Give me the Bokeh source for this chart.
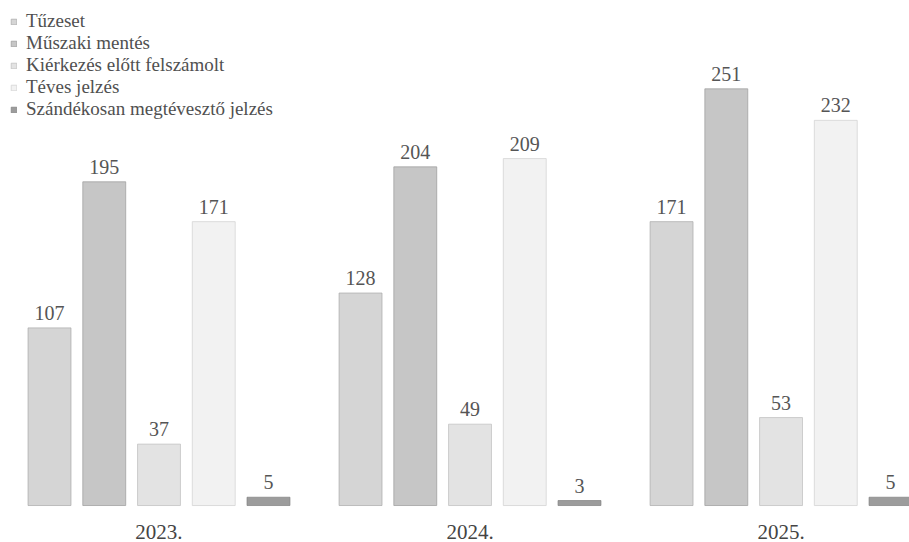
from bokeh.plotting import figure
from bokeh.models import FixedTicker, Range1d, Legend, LegendItem, ColumnDataSource
from bokeh.core.properties import value
from bokeh.embed import file_html
from bokeh.resources import INLINE

years = ["2023.", "2024.", "2025."]
series = ["Tűzeset", "Műszaki mentés", "Kiérkezés előtt felszámolt",
          "Téves jelzés", "Szándékosan megtévesztő jelzés"]
tuzeset = [107, 128, 171]
muszaki = [195, 204, 251]
kierkezes = [37, 49, 53]
teves = [171, 209, 232]
szandekos = [5, 3, 5]
values_by_series = [tuzeset, muszaki, kierkezes, teves, szandekos]

fills = ["#d5d5d5", "#c6c6c6", "#e3e3e3", "#f2f2f2", "#9c9c9c"]
edges = ["#a8a8a8", "#9a9a9a", "#bdbdbd", "#d0d0d0", "#808080"]

p = figure(width=909, height=542, output_backend="svg", toolbar_location=None,
           x_range=Range1d(-0.5096, 2.413), y_range=Range1d(-3.6, 304.2),
           min_border_left=0, min_border_right=0, min_border_top=0,
           min_border_bottom=31)
p.outline_line_color = None
p.grid.visible = False
p.yaxis.visible = False
p.background_fill_color = "white"

pitch = 0.176
width = 0.138
renderers = []
for k, (name, vals) in enumerate(zip(series, values_by_series)):
    xs = [g + (k - 2) * pitch for g in range(len(years))]
    src = ColumnDataSource(dict(x=xs, top=vals, lab=[str(v) for v in vals]))
    r = p.vbar(x="x", top="top", bottom=0, width=width, source=src,
               fill_color=fills[k], line_color=edges[k], line_width=1, line_alpha=0.7)
    renderers.append(r)
    p.text(x="x", y="top", text="lab", source=src, text_align="center",
           text_baseline="alphabetic", y_offset=-15,
           text_font=value("Liberation Serif"), text_font_size="20px",
           text_color="#555555")

legend = Legend(items=[LegendItem(label=s, renderers=[r]) for s, r in zip(series, renderers)],
                location="top_left", margin=10, padding=2, spacing=0,
                glyph_width=7, glyph_height=7, label_standoff=9, label_height=20,
                label_text_font="Liberation Serif", label_text_font_size="19px",
                label_text_line_height=1.0,
                label_text_color="#505050", border_line_color=None,
                background_fill_alpha=0)
p.add_layout(legend)

ax = p.xaxis[0]
ax.ticker = FixedTicker(ticks=[0, 1, 2])
ax.major_label_overrides = {0: years[0], 1: years[1], 2: years[2]}
ax.axis_line_color = None
ax.major_tick_line_color = None
ax.minor_tick_line_color = None
ax.major_label_standoff = 7
ax.major_label_text_font = "Liberation Serif"
ax.major_label_text_font_size = "21px"
ax.major_label_text_color = "#444444"

open("out.html", "w").write(file_html(p, INLINE))
